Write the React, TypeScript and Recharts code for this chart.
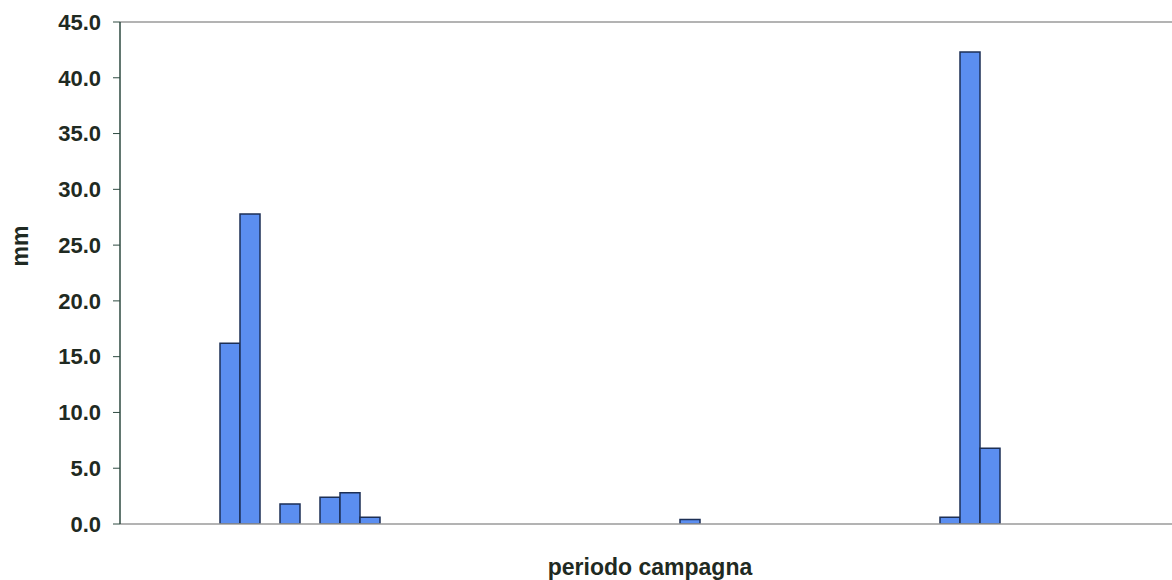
import { Bar, BarChart, ReferenceLine, XAxis, YAxis } from "recharts";

// 53 periods of the campaign, rainfall in mm
const periods = [
  "1", "2", "3", "4", "5", "6", "7", "8", "9", "10",
  "11", "12", "13", "14", "15", "16", "17", "18", "19", "20",
  "21", "22", "23", "24", "25", "26", "27", "28", "29", "30",
  "31", "32", "33", "34", "35", "36", "37", "38", "39", "40",
  "41", "42", "43", "44", "45", "46", "47", "48", "49", "50",
  "51", "52", "53",
];

const rain = [
  0, 0, 0, 0, 0, 16.2, 27.8, 0, 1.8, 0,
  2.4, 2.8, 0.6, 0, 0, 0, 0, 0, 0, 0,
  0, 0, 0, 0, 0, 0, 0, 0, 0.4, 0,
  0, 0, 0, 0, 0, 0, 0, 0, 0, 0,
  0, 0.6, 42.3, 6.8, 0, 0, 0, 0, 0, 0,
  0, 0, 0,
];

const yTicks = [0, 5, 10, 15, 20, 25, 30, 35, 40, 45];

const data = periods.map((p, i) => ({ period: p, mm: rain[i] }));

const FONT = "'Liberation Sans', Arial, sans-serif";
const TEXT = "#1f2a22";

const MmLabel = () => (
  <text
    x={20}
    y={246}
    transform="rotate(-90, 20, 246)"
    textAnchor="middle"
    dominantBaseline="central"
    fontFamily={FONT}
    fontWeight="bold"
    fontSize={23}
    fill={TEXT}
  >
    mm
  </text>
);

export default function App() {
  return (
    <div
      style={{
        position: "fixed",
        left: 0,
        top: 0,
        width: 1172,
        height: 580,
        overflow: "hidden",
        background: "#fff",
      }}
    >
      <BarChart
        width={1181}
        height={580}
        data={data}
        margin={{ top: 22, right: 1, bottom: 0, left: 0 }}
        barCategoryGap={0}
        barGap={0}
      >
        <XAxis
          dataKey="period"
          tick={false}
          tickLine={false}
          axisLine={{ stroke: "#9a9a9a", strokeWidth: 1.5 }}
          height={56}
          label={{
            value: "periodo campagna",
            position: "insideBottom",
            offset: 5,
            fontFamily: FONT,
            fontWeight: "bold",
            fontSize: 23,
            fill: TEXT,
          }}
        />
        <YAxis
          domain={[0, 45]}
          ticks={yTicks}
          interval={0}
          allowDataOverflow
          width={120}
          tickFormatter={(v: number) => v.toFixed(1)}
          tick={{ fontFamily: FONT, fontWeight: "bold", fontSize: 22, fill: TEXT }}
          tickSize={7}
          tickMargin={12}
          tickLine={{ stroke: "#2e4a40" }}
          axisLine={{ stroke: "#2e4a40", strokeWidth: 1.5 }}
          label={<MmLabel />}
        />
        <ReferenceLine y={45} stroke="#9a9a9a" strokeWidth={1.5} />
        <Bar
          dataKey="mm"
          fill="#5b8ef0"
          stroke="#1c2f55"
          strokeWidth={1.5}
          isAnimationActive={false}
        />
      </BarChart>
    </div>
  );
}
